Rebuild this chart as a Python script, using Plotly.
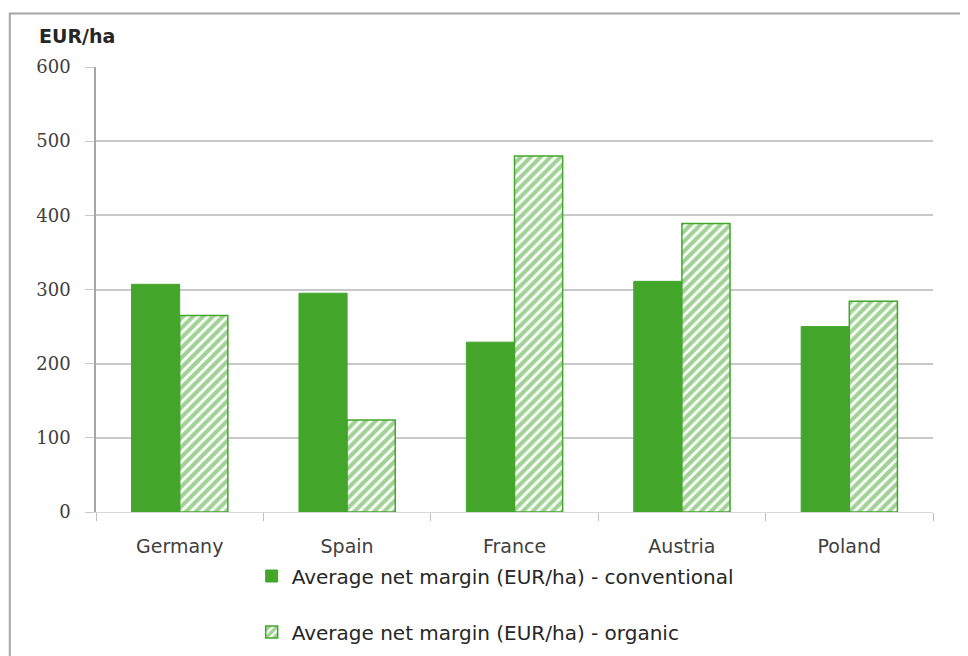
import plotly.graph_objects as go

countries = ["Germany", "Spain", "France", "Austria", "Poland"]
conventional = [307, 295, 229, 311, 250]
organic = [265, 124, 480, 389, 284]
y_ticks = [0, 100, 200, 300, 400, 500, 600]

GREEN = "#43A62B"
FONT = "DejaVu Sans"

fig = go.Figure()
fig.add_trace(go.Bar(
    x=countries, y=conventional,
    name="Average net margin (EUR/ha) - conventional",
    marker=dict(color=GREEN, line=dict(color=GREEN, width=1)),
    legendgroup="a",
))
fig.add_trace(go.Bar(
    x=countries, y=organic,
    name="Average net margin (EUR/ha) - organic",
    marker=dict(color="white", line=dict(color=GREEN, width=1.5),
                pattern=dict(shape="/", fgcolor=GREEN, bgcolor="white",
                             size=7, solidity=0.6, fillmode="overlay")),
    legendgroup="b",
))

fig.update_layout(
    width=968, height=656,
    margin=dict(l=88, r=43, t=59, b=148),
    paper_bgcolor="white", plot_bgcolor="white",
    barmode="group", bargap=0.425, bargroupgap=0,
    font=dict(family=FONT, color="#404040", size=16),
    showlegend=True,
    legend=dict(x=0.186, y=-0.1, xanchor="left", yanchor="top",
                orientation="v", font=dict(size=20, color="#262626"),
                tracegroupgap=27, traceorder="grouped", itemwidth=30),
    xaxis=dict(showgrid=False, showline=True, linecolor="#d9d9d9", linewidth=1,
               ticks="outside", tickson="boundaries", ticklen=8,
               tickcolor="#bfbfbf", tickfont=dict(size=19, color="#404040"),
               ticklabelstandoff=17, automargin=False),
    yaxis=dict(range=[0, 600], tickvals=y_ticks, showgrid=True,
               gridcolor="#c8c8c8", gridwidth=1.5, showline=True,
               linecolor="#a6a6a6", linewidth=1.5, ticks="outside",
               ticklen=9, tickcolor="#c8c8c8",
               tickfont=dict(size=18, color="#404040", family="DejaVu Serif"),
               ticklabelstandoff=11, zeroline=False, automargin=False),
    annotations=[dict(text="<b>EUR/ha</b>", xref="paper", yref="paper",
                      x=-0.07, y=1.07, xanchor="left", yanchor="middle",
                      showarrow=False,
                      font=dict(size=19, color="#262626", family=FONT))],
    shapes=[dict(type="rect", xref="paper", yref="paper",
                 x0=-0.103, x1=1.06, y0=-0.35, y1=1.12,
                 line=dict(color="#a6a6a6", width=2), layer="below")],
)

fig.write_html("out.html")
